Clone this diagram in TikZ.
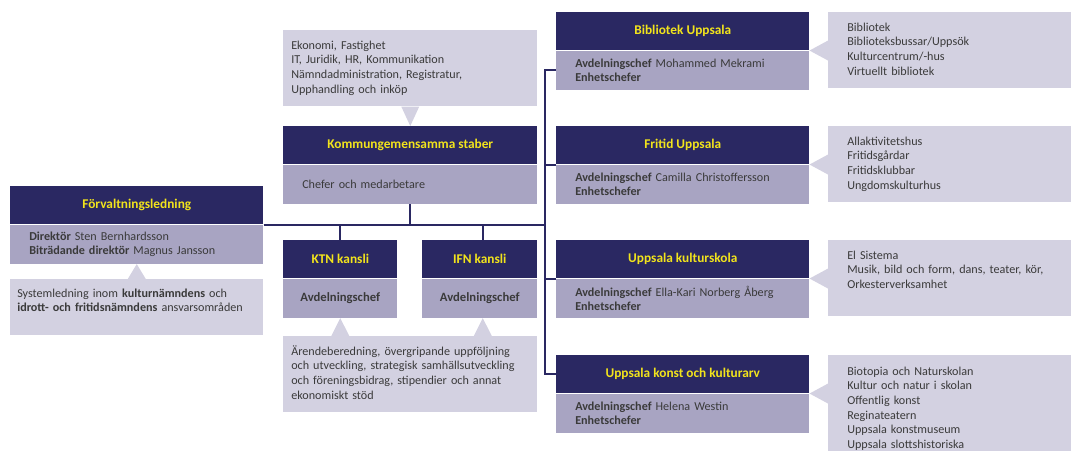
\documentclass[tikz,border=0pt]{standalone}
\usepackage{fontspec}
\setmainfont{Carlito}
\usetikzlibrary{positioning,calc}
\definecolor{navy}{HTML}{2A2862}
\definecolor{headyellow}{HTML}{F2E41C}
\definecolor{bodypurple}{HTML}{A8A4C2}
\definecolor{notegray}{HTML}{D3D1E1}
\definecolor{textgray}{HTML}{3A3A3A}

\begin{document}
\begin{tikzpicture}[x=0.75pt,y=-0.75pt,
    every node/.style={font=\fontsize{9.1}{11}\selectfont},
    head/.style={fill=navy, text=headyellow, font=\fontsize{10}{12}\selectfont\bfseries,
        minimum height=28.5pt, minimum width=#1, inner sep=0pt, anchor=north west},
    body/.style={fill=bodypurple, text=textgray, minimum height=29.25pt, text width=#1,
        inner xsep=14.25pt, inner ysep=2pt, align=left, anchor=north west},
    smallbody/.style={fill=bodypurple, text=textgray, font=\fontsize{9.5}{11}\selectfont\bfseries,
        minimum height=29.25pt, minimum width=#1, inner sep=0pt, anchor=north west},
    note/.style={fill=notegray, text=textgray, align=left, inner ysep=0pt, anchor=north west},
    link/.style={draw=navy, line width=1.5pt}]
  \clip (0,0) rectangle (1071,450);

  % ledning
  \node [head=189.75pt] (flhead) at (10,186) {Förvaltningsledning};
  \node [body=161.25pt] (flbody) at (flhead.south west) {\textbf{Direktör} Sten Bernhardsson\\\textbf{Biträdande direktör} Magnus Jansson};
  \node [note, text width=179.25pt, inner xsep=5.25pt, text height=13.5pt, text depth=28.5pt] (flnote) at (10,279)
    {Systemledning inom \textbf{kulturnämndens} och\\\textbf{idrott- och fritidsnämndens} ansvarsområden};

  % staber och kanslier
  \node [note, text width=178.5pt, inner xsep=6pt, text height=14.25pt, text depth=42.75pt] (stabnote) at (283,30)
    {Ekonomi, Fastighet\\IT, Juridik, HR, Kommunikation\\Nämndadministration, Registratur,\\Upphandling och inköp};
  \node [head=190.5pt] (stabhead) at (283,126) {Kommungemensamma staber};
  \node [body=162pt] (stabbody) at (stabhead.south west) {Chefer och medarbetare};
  \node [head=85.5pt] (ktnhead) at (283,240) {KTN kansli};
  \node [smallbody=85.5pt] (ktnbody) at (ktnhead.south west) {Avdelningschef};
  \node [head=86.25pt] (ifnhead) at (422,240) {IFN kansli};
  \node [smallbody=86.25pt] (ifnbody) at (ifnhead.south west) {Avdelningschef};
  \node [note, text width=178.5pt, inner xsep=6pt, text height=14.25pt, text depth=42.75pt] (kanslinote) at (283,336)
    {Ärendeberedning, övergripande uppföljning\\och utveckling, strategisk samhällsutveckling\\och föreningsbidrag, stipendier och annat\\ekonomiskt stöd};

  % avdelningar
  \node [head=189.75pt] (bibhead) at (556,12) {Bibliotek Uppsala};
  \node [body=161.25pt] (bibbody) at (bibhead.south west) {\textbf{Avdelningschef} Mohammed Mekrami\\\textbf{Enhetschefer}};
  \node [head=189.75pt] (frihead) at (556,126) {Fritid Uppsala};
  \node [body=161.25pt] (fribody) at (frihead.south west) {\textbf{Avdelningschef} Camilla Christoffersson\\\textbf{Enhetschefer}};
  \node [head=189.75pt] (skolhead) at (556,240) {Uppsala kulturskola};
  \node [body=161.25pt] (skolbody) at (skolhead.south west) {\textbf{Avdelningschef} Ella-Kari Norberg Åberg\\\textbf{Enhetschefer}};
  \node [head=189.75pt] (konsthead) at (556,355) {Uppsala konst och kulturarv};
  \node [body=161.25pt] (konstbody) at (konsthead.south west) {\textbf{Avdelningschef} Helena Westin\\\textbf{Enhetschefer}};

  \node [note, text width=166.5pt, inner xsep=14.25pt, text height=14.25pt, text depth=42.75pt] (bibnote) at (828,12)
    {Bibliotek\\Biblioteksbussar/Uppsök\\Kulturcentrum/-hus\\Virtuellt bibliotek};
  \node [note, text width=166.5pt, inner xsep=14.25pt, text height=14.25pt, text depth=42.75pt] (frinote) at (828,126)
    {Allaktivitetshus\\Fritidsgårdar\\Fritidsklubbar\\Ungdomskulturhus};
  \node [note, text width=166.5pt, inner xsep=14.25pt, text height=14.25pt, text depth=42.75pt] (skolnote) at (828,240)
    {El Sistema\\Musik, bild och form, dans, teater, kör,\\Orkesterverksamhet};
  \node [note, text width=166.5pt, inner xsep=14.25pt, text height=15pt, text depth=68.25pt] (konstnote) at (828,355)
    {Biotopia och Naturskolan\\Kultur och natur i skolan\\Offentlig konst\\Reginateatern\\Uppsala konstmuseum\\Uppsala slottshistoriska};

  % pratbubblor
  \fill [notegray] (flbody.south) -- ($(flbody.south |- flnote.north)+(9,0)$) -- ($(flbody.south |- flnote.north)+(-9,0)$) -- cycle;
  \fill [notegray] (stabhead.north) -- ($(stabhead.north |- stabnote.south)+(9,0)$) -- ($(stabhead.north |- stabnote.south)+(-9,0)$) -- cycle;
  \fill [notegray] (ktnbody.south) -- ($(ktnbody.south |- kanslinote.north)+(9,0)$) -- ($(ktnbody.south |- kanslinote.north)+(-9,0)$) -- cycle;
  \fill [notegray] ($(ifnbody.south)+(3,0)$) -- ($(ifnbody.south |- kanslinote.north)+(12,0)$) -- ($(ifnbody.south |- kanslinote.north)+(-6,0)$) -- cycle;
  \foreach \n in {bib,fri,skol,konst}
    \fill [notegray] (\n body.north east) -- ($(\n note.west |- \n body.north east)+(0,-10)$) -- ($(\n note.west |- \n body.north east)+(0,10)$) -- cycle;

  % linjer
  \coordinate (spine) at (545,0);
  \draw [link] (flhead.south east) -- (flhead.south east -| spine);
  \draw [link] (stabbody.south) -- (stabbody.south |- flhead.south east);
  \draw [link] (ktnhead.north) -- (ktnhead.north |- flhead.south east);
  \draw [link] ($(ifnhead.north)+(3,0)$) -- ($(ifnhead.north |- flhead.south east)+(3,0)$);
  \draw [link] (bibbody.west) -- (bibbody.west -| spine) -- (konsthead.west -| spine) -- (konsthead.west);
  \draw [link] (frihead.south west -| spine) -- (frihead.south west);
  \draw [link] (skolhead.south west -| spine) -- (skolhead.south west);
\end{tikzpicture}
\end{document}
